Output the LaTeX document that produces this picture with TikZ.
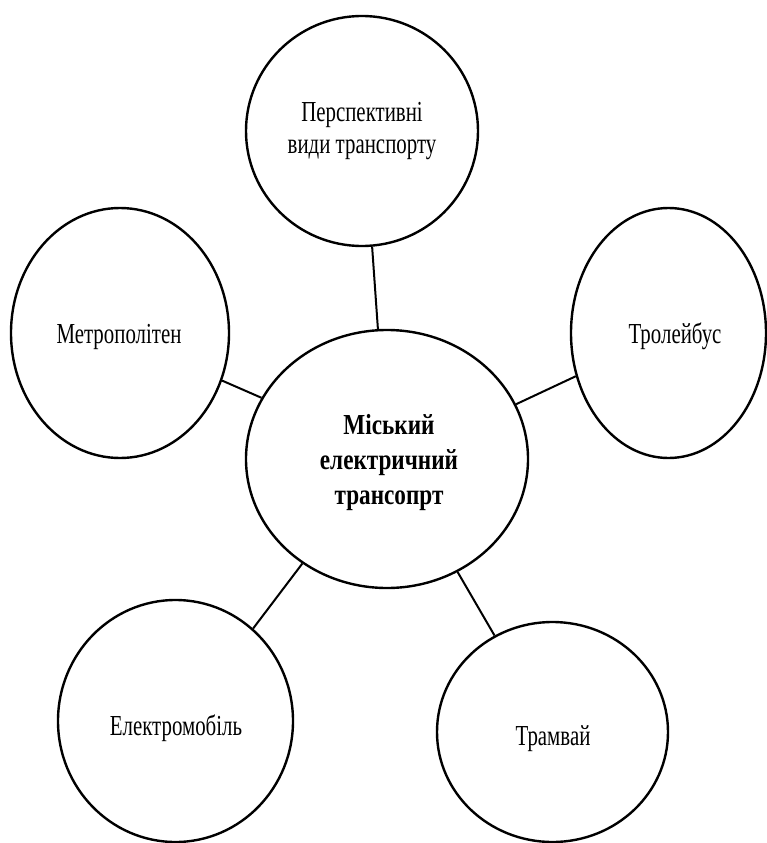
\documentclass[tikz,border=0pt]{standalone}
\usepackage{fontspec}
\setmainfont{Liberation Serif}[FakeStretch=0.72]
\newfontfamily\hubfont{Liberation Serif}[FakeStretch=0.8]
\usetikzlibrary{shapes.geometric}
\begin{document}
\begin{tikzpicture}[x=1pt,y=-1pt,
  bubble/.style={draw, ellipse, line width=2.4pt, inner sep=0pt},
  link/.style={line width=2pt},
  lbl/.style={font=\fontsize{29}{31.5}\selectfont, align=center, inner sep=0pt},
  hubtext/.style={font=\fontsize{29}{35}\hubfont\bfseries, align=center, inner sep=0pt}]
\useasboundingbox (0,0) rectangle (767,843);

% ellipses
\node[bubble, minimum width=282pt, minimum height=258pt] (hub) at (387,459) {};
\node[bubble, minimum width=232pt, minimum height=230pt] (top) at (362,131) {};
\node[bubble, minimum width=218pt, minimum height=250pt] (metro) at (120,333) {};
\node[bubble, minimum width=195pt, minimum height=250pt] (troll) at (668.5,333) {};
\node[bubble, minimum width=235pt, minimum height=242pt] (emob) at (175.5,721) {};
\node[bubble, minimum width=231pt, minimum height=220pt] (tram) at (552.5,732) {};

% labels
\node[hubtext] (hubl) at (389,463) {Міський\\електричний\\трансопрт};
\node[lbl] (topl) at (362,131) {Перспективні\\види транспорту};
\node[lbl, anchor=base] (metrol) at (119,343) {Метрополітен};
\node[lbl, anchor=base] (trolll) at (675,343) {Тролейбус};
\node[lbl, anchor=base] (emobl) at (176,735) {Електромобіль};
\node[lbl, anchor=base] (traml) at (553,745) {Трамвай};

% connectors
\draw[link] (top.-85) -- (hub.94);
\draw[link] (metro.-25) -- (hub.154);
\draw[link] (troll.205) -- (hub.23.5);
\draw[link] (emob.50) -- (hub.231);
\draw[link] (tram.121) -- (hub.-58);
\end{tikzpicture}
\end{document}
